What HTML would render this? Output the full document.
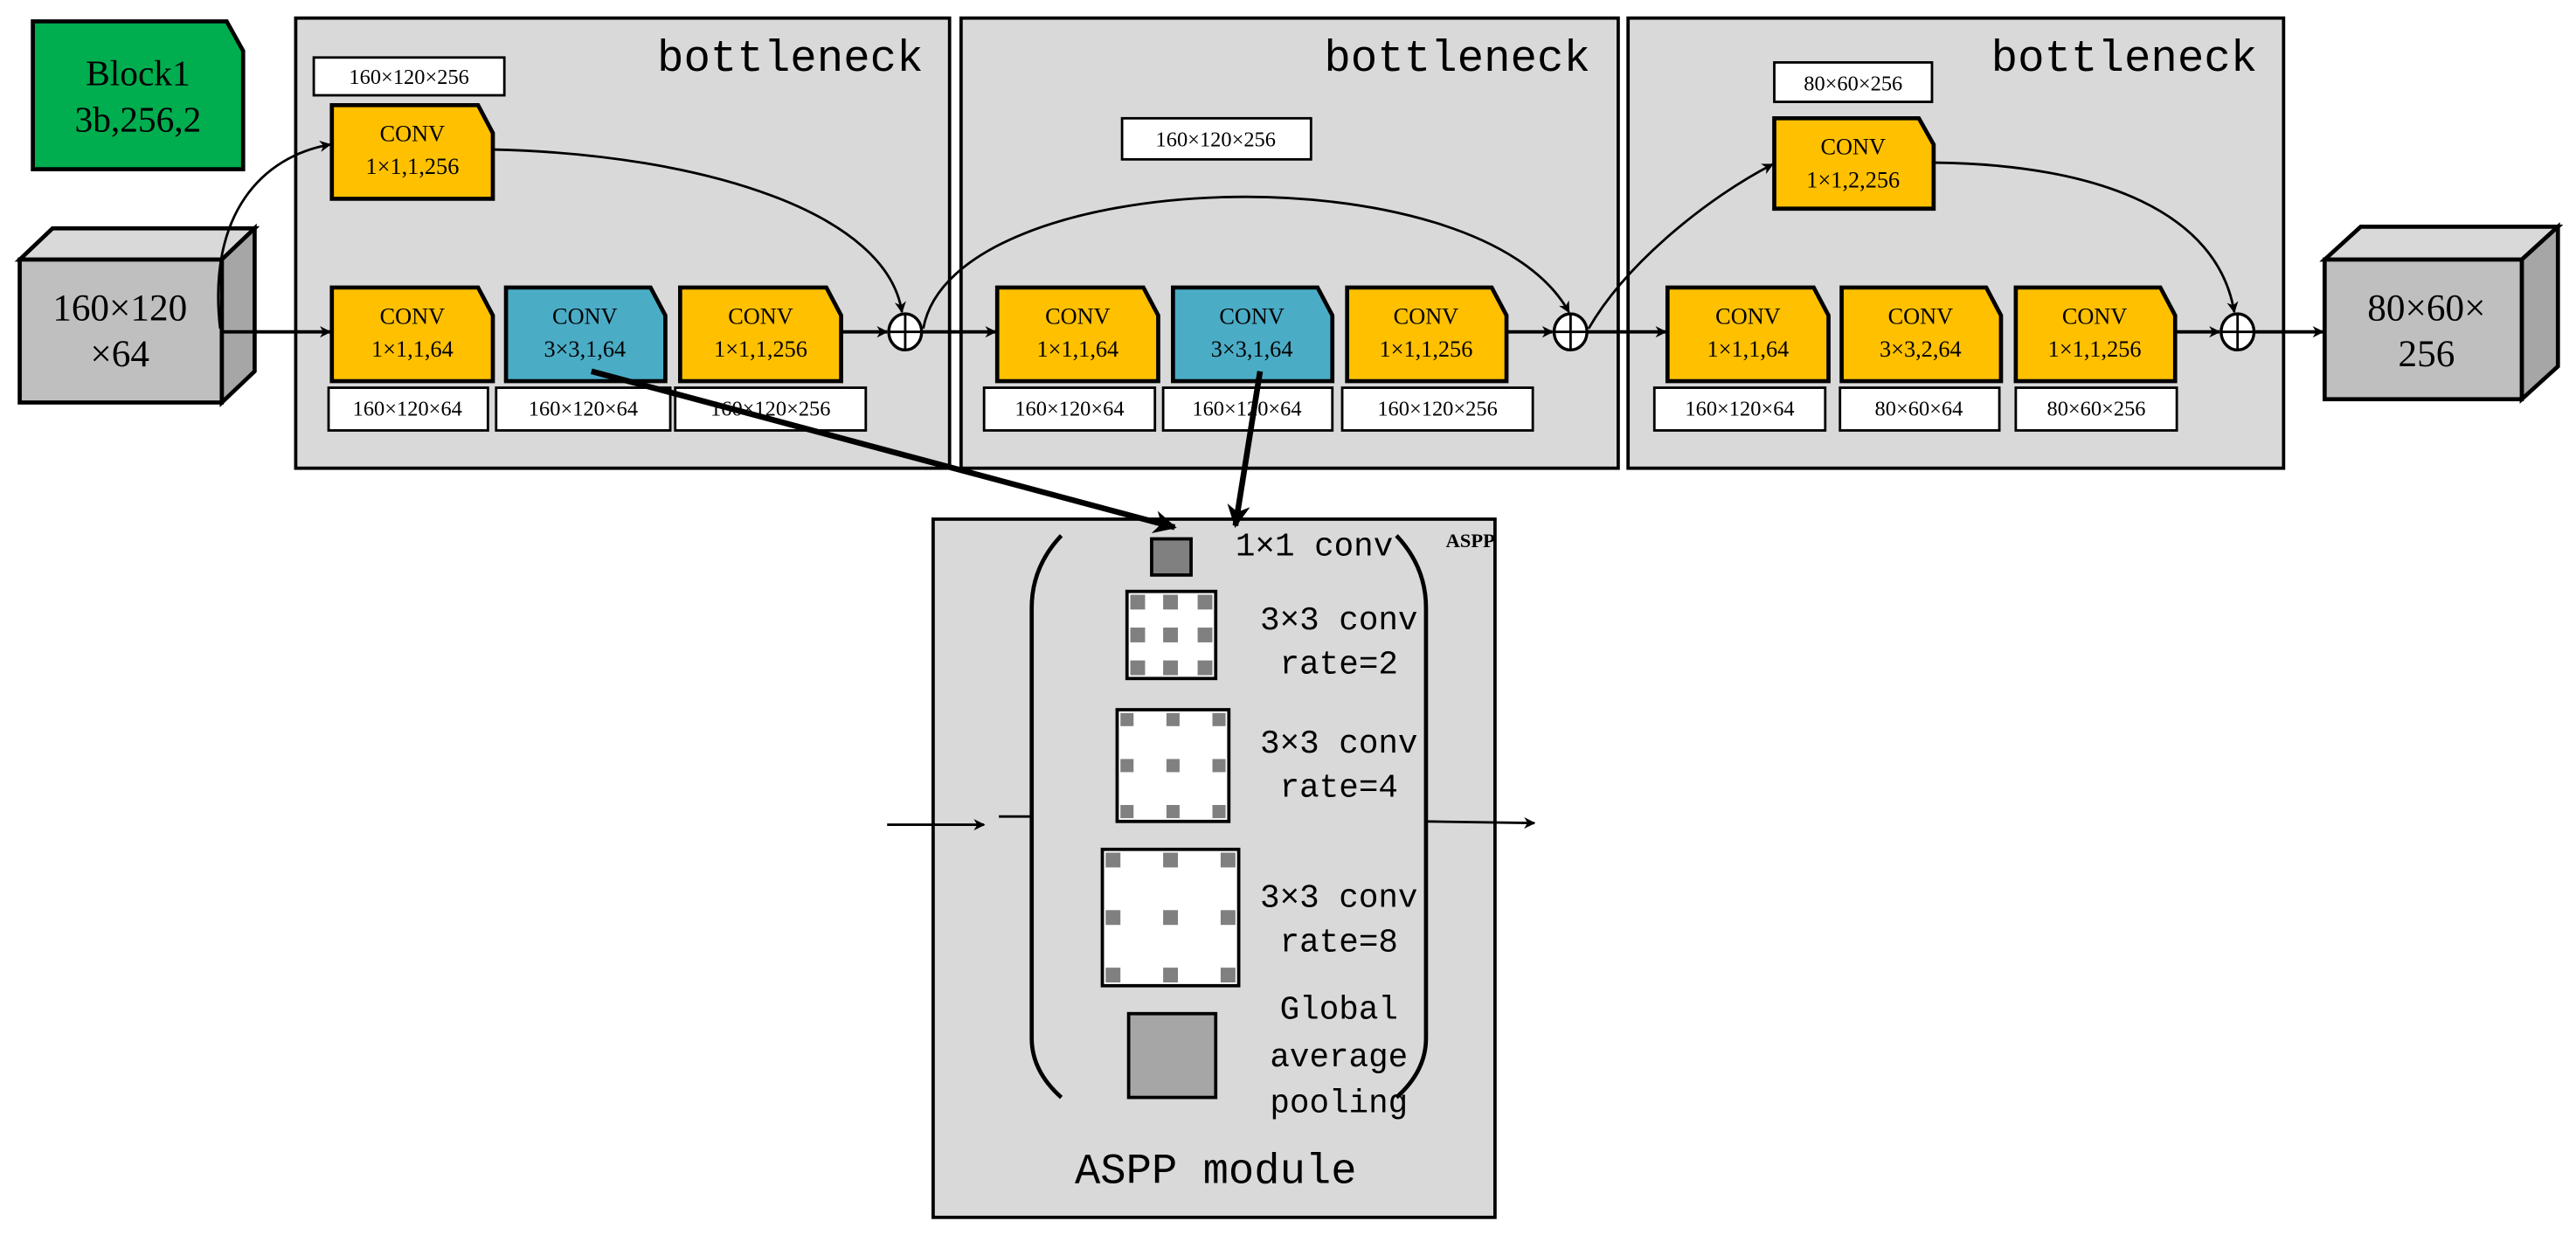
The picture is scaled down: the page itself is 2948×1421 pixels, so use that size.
<!DOCTYPE html>
<html><head><meta charset="utf-8"><style>
html,body{margin:0;padding:0;background:#fff;}
svg{display:block;}
text{font-family:"Liberation Serif","Noto Serif CJK SC",serif;fill:#000;}
.m{font-family:"Liberation Mono","DejaVu Sans Mono",monospace;}
</style></head><body>
<svg width="2948" height="1421" viewBox="0 0 1568 756" preserveAspectRatio="none" xmlns="http://www.w3.org/2000/svg">
<defs>
<marker id="a" viewBox="0 0 10 10" refX="9" refY="5" markerWidth="7" markerHeight="7" orient="auto" markerUnits="userSpaceOnUse"><path d="M0,0 L10,5 L0,10 L3,5 z" fill="#000"/></marker>
<marker id="b" viewBox="0 0 10 10" refX="9" refY="5" markerWidth="14" markerHeight="14" orient="auto" markerUnits="userSpaceOnUse"><path d="M0,0 L10,5 L0,10 L3,5 z" fill="#000"/></marker>
</defs>
<polygon points="20,13 138,13 148,31 148,103 20,103" fill="#00ad4f" stroke="#000" stroke-width="2.5"/>
<text x="84" y="52" font-size="22" text-anchor="middle">Block1</text>
<text x="84" y="80" font-size="22" text-anchor="middle">3b,256,2</text>
<polygon points="12,158 32,139 155,139 135,158" fill="#d9d9d9" stroke="#000" stroke-width="2.5"/>
<polygon points="135,158 155,139 155,226 135,245" fill="#a6a6a6" stroke="#000" stroke-width="2.5"/>
<rect x="12" y="158" width="123" height="87" fill="#bfbfbf" stroke="#000" stroke-width="2.5"/>
<text x="73" y="195" font-size="23" text-anchor="middle">160×120</text>
<text x="73" y="223" font-size="23" text-anchor="middle">×64</text>
<rect x="180" y="11" width="398" height="274" fill="#d9d9d9" stroke="#000" stroke-width="2"/>
<rect x="585" y="11" width="400" height="274" fill="#d9d9d9" stroke="#000" stroke-width="2"/>
<rect x="991" y="11" width="399" height="274" fill="#d9d9d9" stroke="#000" stroke-width="2"/>
<text class="m" x="562" y="43" font-size="27" text-anchor="end">bottleneck</text>
<text class="m" x="968" y="43" font-size="27" text-anchor="end">bottleneck</text>
<text class="m" x="1374" y="43" font-size="27" text-anchor="end">bottleneck</text>
<g stroke="#000" stroke-width="1.5" fill="#fff">
<rect x="191" y="35" width="116" height="23"/>
<rect x="683" y="72" width="115" height="25"/>
<rect x="1080" y="38" width="96" height="24"/>
<rect x="200" y="236" width="97" height="26"/><rect x="302" y="236" width="106" height="26"/><rect x="411" y="236" width="116" height="26"/>
<rect x="599" y="236" width="104" height="26"/><rect x="708" y="236" width="103" height="26"/><rect x="817" y="236" width="116" height="26"/>
<rect x="1007" y="236" width="104" height="26"/><rect x="1120" y="236" width="97" height="26"/><rect x="1227" y="236" width="98" height="26"/>
</g>
<g font-size="13" text-anchor="middle">
<text x="249" y="51">160×120×256</text><text x="740" y="89">160×120×256</text><text x="1128" y="55">80×60×256</text>
<text x="248" y="253">160×120×64</text><text x="355" y="253">160×120×64</text><text x="469" y="253">160×120×256</text>
<text x="651" y="253">160×120×64</text><text x="759" y="253">160×120×64</text><text x="875" y="253">160×120×256</text>
<text x="1059" y="253">160×120×64</text><text x="1168" y="253">80×60×64</text><text x="1276" y="253">80×60×256</text>
</g>
<g stroke="#000" stroke-width="2.5">
<polygon points="202,64 291,64 300,81 300,121 202,121" fill="#ffc000"/>
<polygon points="1080,72 1168,72 1177,88 1177,127 1080,127" fill="#ffc000"/>
<polygon points="202,175 291,175 300,192 300,232 202,232" fill="#ffc000"/>
<polygon points="308,175 396,175 405,192 405,232 308,232" fill="#4bacc6"/>
<polygon points="414,175 503,175 512,192 512,232 414,232" fill="#ffc000"/>
<polygon points="607,175 696,175 705,192 705,232 607,232" fill="#ffc000"/>
<polygon points="714,175 802,175 811,192 811,232 714,232" fill="#4bacc6"/>
<polygon points="820,175 908,175 917,192 917,232 820,232" fill="#ffc000"/>
<polygon points="1015,175 1104,175 1113,192 1113,232 1015,232" fill="#ffc000"/>
<polygon points="1121,175 1209,175 1218,192 1218,232 1121,232" fill="#ffc000"/>
<polygon points="1227,175 1315,175 1324,192 1324,232 1227,232" fill="#ffc000"/>
</g>
<g font-size="14" text-anchor="middle">
<text x="251" y="86">CONV</text><text x="251" y="106">1×1,1,256</text>
<text x="1128" y="94">CONV</text><text x="1128" y="114">1×1,2,256</text>
<text x="251" y="197">CONV</text><text x="251" y="217">1×1,1,64</text>
<text x="356" y="197">CONV</text><text x="356" y="217">3×3,1,64</text>
<text x="463" y="197">CONV</text><text x="463" y="217">1×1,1,256</text>
<text x="656" y="197">CONV</text><text x="656" y="217">1×1,1,64</text>
<text x="762" y="197">CONV</text><text x="762" y="217">3×3,1,64</text>
<text x="868" y="197">CONV</text><text x="868" y="217">1×1,1,256</text>
<text x="1064" y="197">CONV</text><text x="1064" y="217">1×1,1,64</text>
<text x="1169" y="197">CONV</text><text x="1169" y="217">3×3,2,64</text>
<text x="1275" y="197">CONV</text><text x="1275" y="217">1×1,1,256</text>
</g>
<g stroke="#000" stroke-width="1.8" fill="#fff">
<ellipse cx="551" cy="202" rx="10" ry="11"/><ellipse cx="956" cy="202" rx="10" ry="11"/><ellipse cx="1362" cy="202" rx="10" ry="11"/>
</g>
<g stroke="#000" stroke-width="1.5">
<line x1="541" y1="202" x2="561" y2="202"/><line x1="551" y1="191" x2="551" y2="213"/>
<line x1="946" y1="202" x2="966" y2="202"/><line x1="956" y1="191" x2="956" y2="213"/>
<line x1="1352" y1="202" x2="1372" y2="202"/><line x1="1362" y1="191" x2="1362" y2="213"/>
</g>
<g stroke="#000" stroke-width="2" fill="none">
<line x1="135" y1="202" x2="201" y2="202" marker-end="url(#a)"/>
<line x1="512" y1="202" x2="540" y2="202" marker-end="url(#a)"/>
<line x1="561" y1="202" x2="606" y2="202" marker-end="url(#a)"/>
<line x1="917" y1="202" x2="945" y2="202" marker-end="url(#a)"/>
<line x1="966" y1="202" x2="1014" y2="202" marker-end="url(#a)"/>
<line x1="1324" y1="202" x2="1351" y2="202" marker-end="url(#a)"/>
<line x1="1372" y1="202" x2="1414" y2="202" marker-end="url(#a)"/>
</g>
<g stroke="#000" stroke-width="1.5" fill="none">
<path d="M134,200 C126,130 160,95 201,88" marker-end="url(#a)"/>
<path d="M300,91 C430,94 540,130 549,190" marker-end="url(#a)"/>
<path d="M562,200 C580,100 900,90 955,190" marker-end="url(#a)"/>
<path d="M967,200 C990,160 1040,120 1079,100" marker-end="url(#a)"/>
<path d="M1177,99 C1280,100 1350,130 1360,190" marker-end="url(#a)"/>
</g>
<polygon points="1415,158 1437,138 1557,138 1535,158" fill="#d9d9d9" stroke="#000" stroke-width="2.5"/>
<polygon points="1535,158 1557,138 1557,223 1535,243" fill="#a6a6a6" stroke="#000" stroke-width="2.5"/>
<rect x="1415" y="158" width="120" height="85" fill="#bfbfbf" stroke="#000" stroke-width="2.5"/>
<text x="1477" y="195" font-size="23" text-anchor="middle">80×60×</text>
<text x="1477" y="223" font-size="23" text-anchor="middle">256</text>
<rect x="568" y="316" width="342" height="425" fill="#d9d9d9" stroke="#000" stroke-width="2"/>
<g stroke="#000" stroke-width="2.5" fill="none">
<path d="M646,326 Q628,345 628,370 L628,632 Q628,652 646,668"/>
<path d="M850,326 Q868,345 868,370 L868,632 Q868,652 850,668"/>
<line x1="608" y1="497" x2="628" y2="497" stroke-width="1.5"/>
</g>
<line x1="540" y1="502" x2="599" y2="502" stroke="#000" stroke-width="1.5" marker-end="url(#a)"/>
<line x1="868" y1="500" x2="934" y2="501" stroke="#000" stroke-width="1.5" marker-end="url(#a)"/>
<line x1="360" y1="226" x2="715" y2="321" stroke="#000" stroke-width="3.5" marker-end="url(#b)"/>
<line x1="767" y1="226" x2="752" y2="320" stroke="#000" stroke-width="3.5" marker-end="url(#b)"/>
<rect x="701" y="328" width="24" height="22" fill="#808080" stroke="#000" stroke-width="2"/>
<rect x="686" y="360" width="54" height="53" fill="#fff" stroke="#000" stroke-width="2"/>
<g fill="#808080">
<rect x="688" y="362" width="9" height="9"/><rect x="708" y="362" width="9" height="9"/><rect x="729" y="362" width="9" height="9"/>
<rect x="688" y="382" width="9" height="9"/><rect x="708" y="382" width="9" height="9"/><rect x="729" y="382" width="9" height="9"/>
<rect x="688" y="402" width="9" height="9"/><rect x="708" y="402" width="9" height="9"/><rect x="729" y="402" width="9" height="9"/>
</g>
<rect x="680" y="432" width="68" height="68" fill="#fff" stroke="#000" stroke-width="2"/>
<g fill="#808080">
<rect x="682" y="434" width="8" height="8"/><rect x="710" y="434" width="8" height="8"/><rect x="738" y="434" width="8" height="8"/>
<rect x="682" y="462" width="8" height="8"/><rect x="710" y="462" width="8" height="8"/><rect x="738" y="462" width="8" height="8"/>
<rect x="682" y="490" width="8" height="8"/><rect x="710" y="490" width="8" height="8"/><rect x="738" y="490" width="8" height="8"/>
</g>
<rect x="671" y="517" width="83" height="83" fill="#fff" stroke="#000" stroke-width="2"/>
<g fill="#808080">
<rect x="673" y="519" width="9" height="9"/><rect x="708" y="519" width="9" height="9"/><rect x="743" y="519" width="9" height="9"/>
<rect x="673" y="554" width="9" height="9"/><rect x="708" y="554" width="9" height="9"/><rect x="743" y="554" width="9" height="9"/>
<rect x="673" y="589" width="9" height="9"/><rect x="708" y="589" width="9" height="9"/><rect x="743" y="589" width="9" height="9"/>
</g>
<rect x="687" y="617" width="53" height="51" fill="#a6a6a6" stroke="#000" stroke-width="2"/>
<g class="m" font-size="20" text-anchor="middle">
<text class="m" x="800" y="338">1×1 conv</text>
<text class="m" x="815" y="383">3×3 conv</text><text class="m" x="815" y="410">rate=2</text>
<text class="m" x="815" y="458">3×3 conv</text><text class="m" x="815" y="485">rate=4</text>
<text class="m" x="815" y="552">3×3 conv</text><text class="m" x="815" y="579">rate=8</text>
<text class="m" x="815" y="620">Global</text><text class="m" x="815" y="649">average</text><text class="m" x="815" y="677">pooling</text>
</g>
<text x="880" y="333" font-size="12" font-weight="bold">ASPP</text>
<text class="m" x="740" y="720" font-size="26" text-anchor="middle">ASPP module</text>
</svg>
</body></html>
